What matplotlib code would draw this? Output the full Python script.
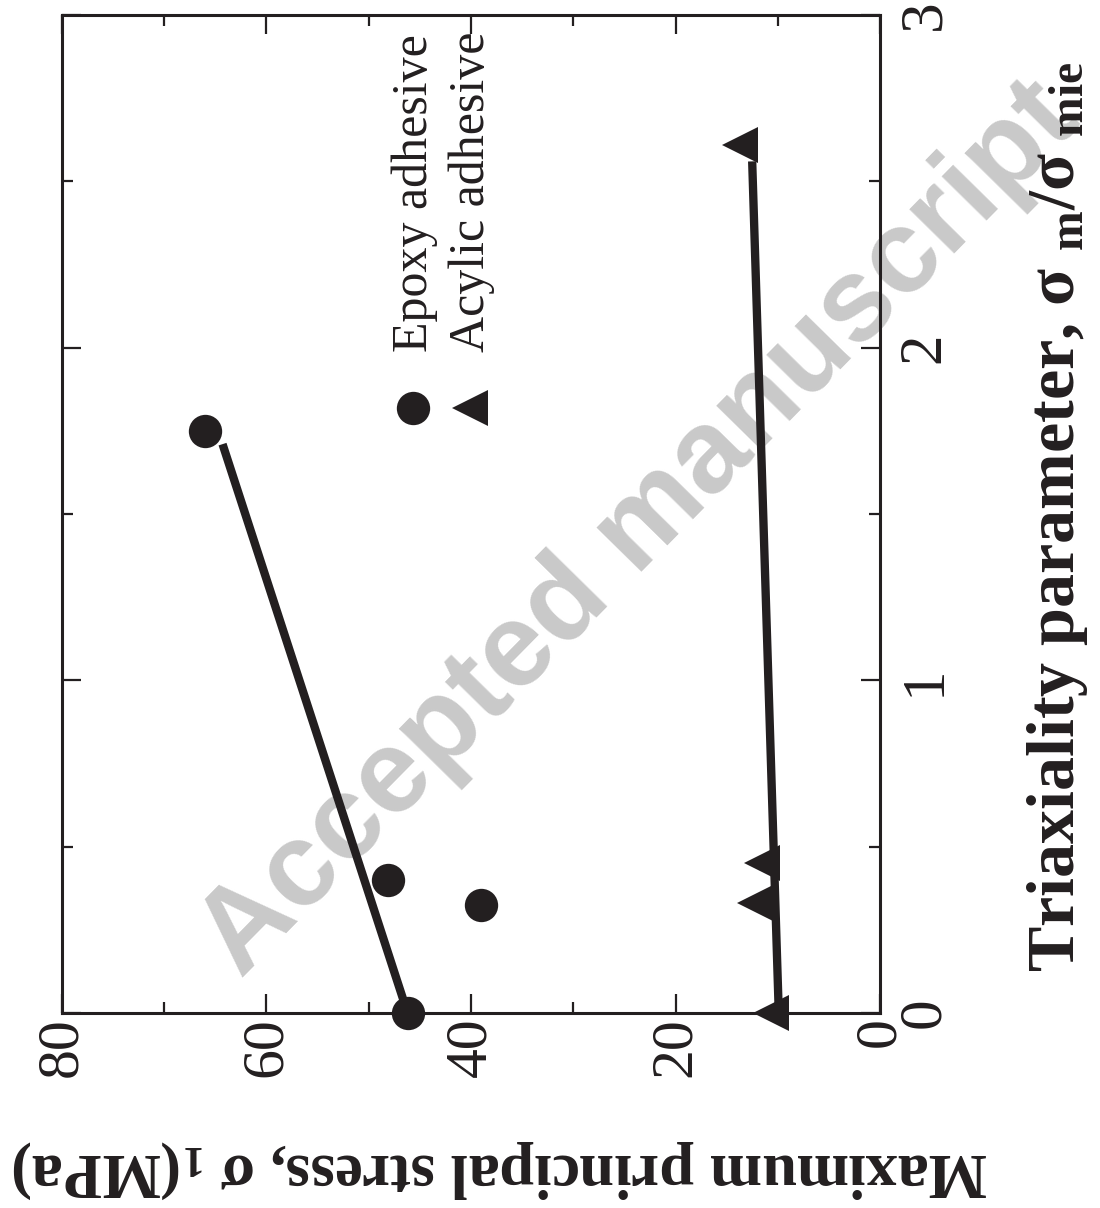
import numpy as np
import matplotlib
matplotlib.use('Agg')
import matplotlib.pyplot as plt
from matplotlib.ticker import MultipleLocator

plt.rcParams.update({
    "font.family": "serif",
    "font.serif": ["Liberation Serif", "DejaVu Serif"],
    "mathtext.fontset": "custom",
    "mathtext.rm": "Liberation Serif:bold",
    "mathtext.it": "Liberation Serif:bold",
    "mathtext.bf": "Liberation Serif:bold",
})

# data (the figure is printed rotated 90 deg, so stress runs along the picture's x axis)
epoxy_triax = [0.0, 0.40, 0.325, 1.75]
epoxy_stress = [46.2, 48.1, 39.0, 66.0]
acrylic_triax = [0.0, 0.33, 0.45, 2.61]
acrylic_stress = [10.7, 12.2, 11.5, 13.7]

# fitted lines (end points)
epoxy_fit_triax = [0.0, 1.71]
epoxy_fit_stress = [46.2, 64.3]
acrylic_fit_triax = [0.0, 2.56]
acrylic_fit_stress = [9.9, 12.5]

stress_ticks = [0, 20, 40, 60, 80]
triax_ticks = [0, 1, 2, 3]

fig = plt.figure(figsize=(11, 12.08), dpi=100)
ax = fig.add_axes([62/1100, 1 - 1013/1208, (880-62)/1100, (1013-15)/1208])
ax.set_facecolor('none')

# watermark
fig.text(640/1100, 1 - 530/1208, 'Accepted manuscript', fontsize=85, fontweight='bold',
         family='Liberation Sans', color='#c9c9c9', rotation=45.5,
         ha='center', va='center', zorder=-1)

# fit lines
ax.plot(epoxy_fit_stress, epoxy_fit_triax, color='#231f20', lw=6, solid_capstyle='butt', zorder=2)
ax.plot(acrylic_fit_stress, acrylic_fit_triax, color='#231f20', lw=6, solid_capstyle='butt', zorder=2)
# points
ax.plot(epoxy_stress, epoxy_triax, 'o', color='#231f20', ms=24, mew=0, ls='none', zorder=3, clip_on=False)
ax.plot(acrylic_stress, acrylic_triax, '<', color='#231f20', ms=26, mew=0, ls='none', zorder=3, clip_on=False)

ax.set_xlim(80, 0)
ax.set_ylim(0, 3)
ax.xaxis.set_minor_locator(MultipleLocator(10))
ax.yaxis.set_minor_locator(MultipleLocator(0.5))
ax.set_xticks(stress_ticks)
ax.set_yticks(triax_ticks)

for s in ax.spines.values():
    s.set_linewidth(2.2)
    s.set_color('#231f20')

ax.tick_params(which='both', direction='in', top=True, bottom=True, left=True, right=True,
               color='#231f20', width=1.6, labelcolor='#231f20')
ax.tick_params(which='major', length=14)
ax.tick_params(which='minor', length=8)
ax.tick_params(axis='x', labelsize=43, labelrotation=90, pad=3)
ax.tick_params(axis='y', labelleft=False, labelright=True, labelsize=44, labelrotation=90, pad=12)
for lab in ax.get_yticklabels():
    lab.set_va('center')

# axis labels (rotated with the figure)
fig.text(500/1100, 1 - 1170/1208, r'Maximum principal stress, σ $_{1}$(MPa)', fontsize=45,
         fontweight='bold', rotation=180, ha='center', va='center', color='#231f20')
fig.text(1058/1100, 1 - 517/1208, r'Triaxiality parameter, σ $_{m}$/σ $_{mie}$', fontsize=49,
         fontweight='bold', rotation=90, ha='center', va='center', color='#231f20')

# legend keys
ax.plot([0.429], [0.606], 'o', transform=ax.transAxes, color='#231f20', ms=24, mew=0)
ax.plot([0.499], [0.606], '<', transform=ax.transAxes, color='#231f20', ms=26, mew=0)
ax.text(0.431, 0.662, 'Epoxy adhesive', transform=ax.transAxes, fontsize=36,
        rotation=90, ha='center', va='bottom', color='#231f20')
ax.text(0.501, 0.662, 'Acylic adhesive', transform=ax.transAxes, fontsize=36,
        rotation=90, ha='center', va='bottom', color='#231f20')

fig.savefig('out.png', dpi=100)
